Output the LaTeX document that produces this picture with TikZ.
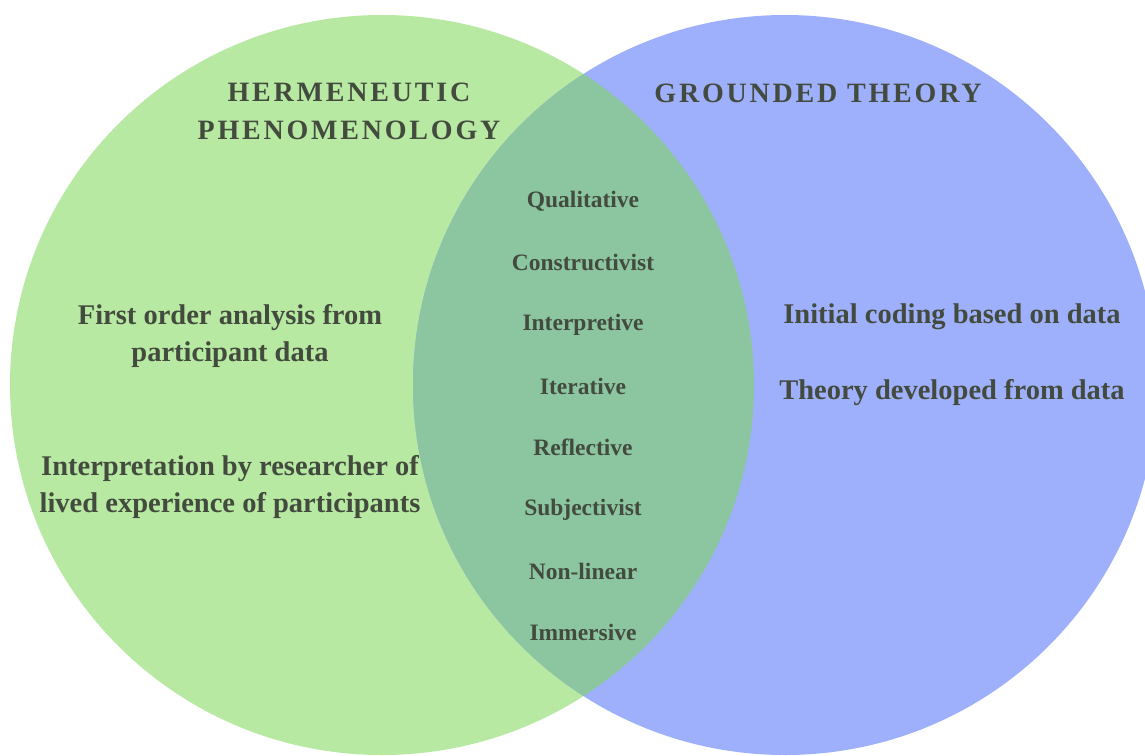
\documentclass[tikz,border=0pt]{standalone}
\usepackage{fontspec}
\setmainfont{Liberation Serif}
\newfontfamily\headfont[LetterSpace=10]{Liberation Serif}
\definecolor{hermgreen}{HTML}{B7E9A2}
\definecolor{groundblue}{HTML}{9EB0FC}
\definecolor{bothteal}{HTML}{8BC6A0}
\definecolor{inkgrey}{HTML}{434A3E}
\tikzset{
  heading/.style={text=inkgrey, font=\headfont\bfseries\fontsize{28}{38}\selectfont, align=center},
  point/.style={text=inkgrey, font=\bfseries\fontsize{28.5}{37}\selectfont, align=center},
  shared/.style={text=inkgrey, font=\bfseries\fontsize{23.5}{28}\selectfont}
}
\begin{document}
\begin{tikzpicture}[x=1pt,y=-1pt]
  \useasboundingbox (0,0) rectangle (1145,755);

  % the two sets and their overlap
  \fill[hermgreen] (382,385) ellipse [x radius=372, y radius=370];
  \fill[groundblue] (785,385) ellipse [x radius=372, y radius=370];
  \begin{scope}
    \clip (382,385) ellipse [x radius=372, y radius=370];
    \fill[bothteal] (785,385) ellipse [x radius=372, y radius=370];
  \end{scope}

  % headings
  \node[heading] (herm) at (349,111) {HERMENEUTIC\\PHENOMENOLOGY};
  \node[heading] (grounded) at (818,93) {GROUNDED THEORY};

  % hermeneutic phenomenology only
  \node[point] (firstorder) at (230,336) {First order analysis from\\participant data};
  \node[point] (interp) at (230,487) {Interpretation by researcher of\\lived experience of participants};

  % grounded theory only
  \node[point] (coding) at (952,317) {Initial coding based on data};
  \node[point] (theory) at (952,393) {Theory developed from data};

  % common to both
  \foreach \word [count=\i] in {Qualitative, Constructivist, Interpretive, Iterative,
                               Reflective, Subjectivist, Non-linear, Immersive}
    \node[shared] (common\i) at (583,{201+61.7*(\i-1)}) {\word};
\end{tikzpicture}
\end{document}
